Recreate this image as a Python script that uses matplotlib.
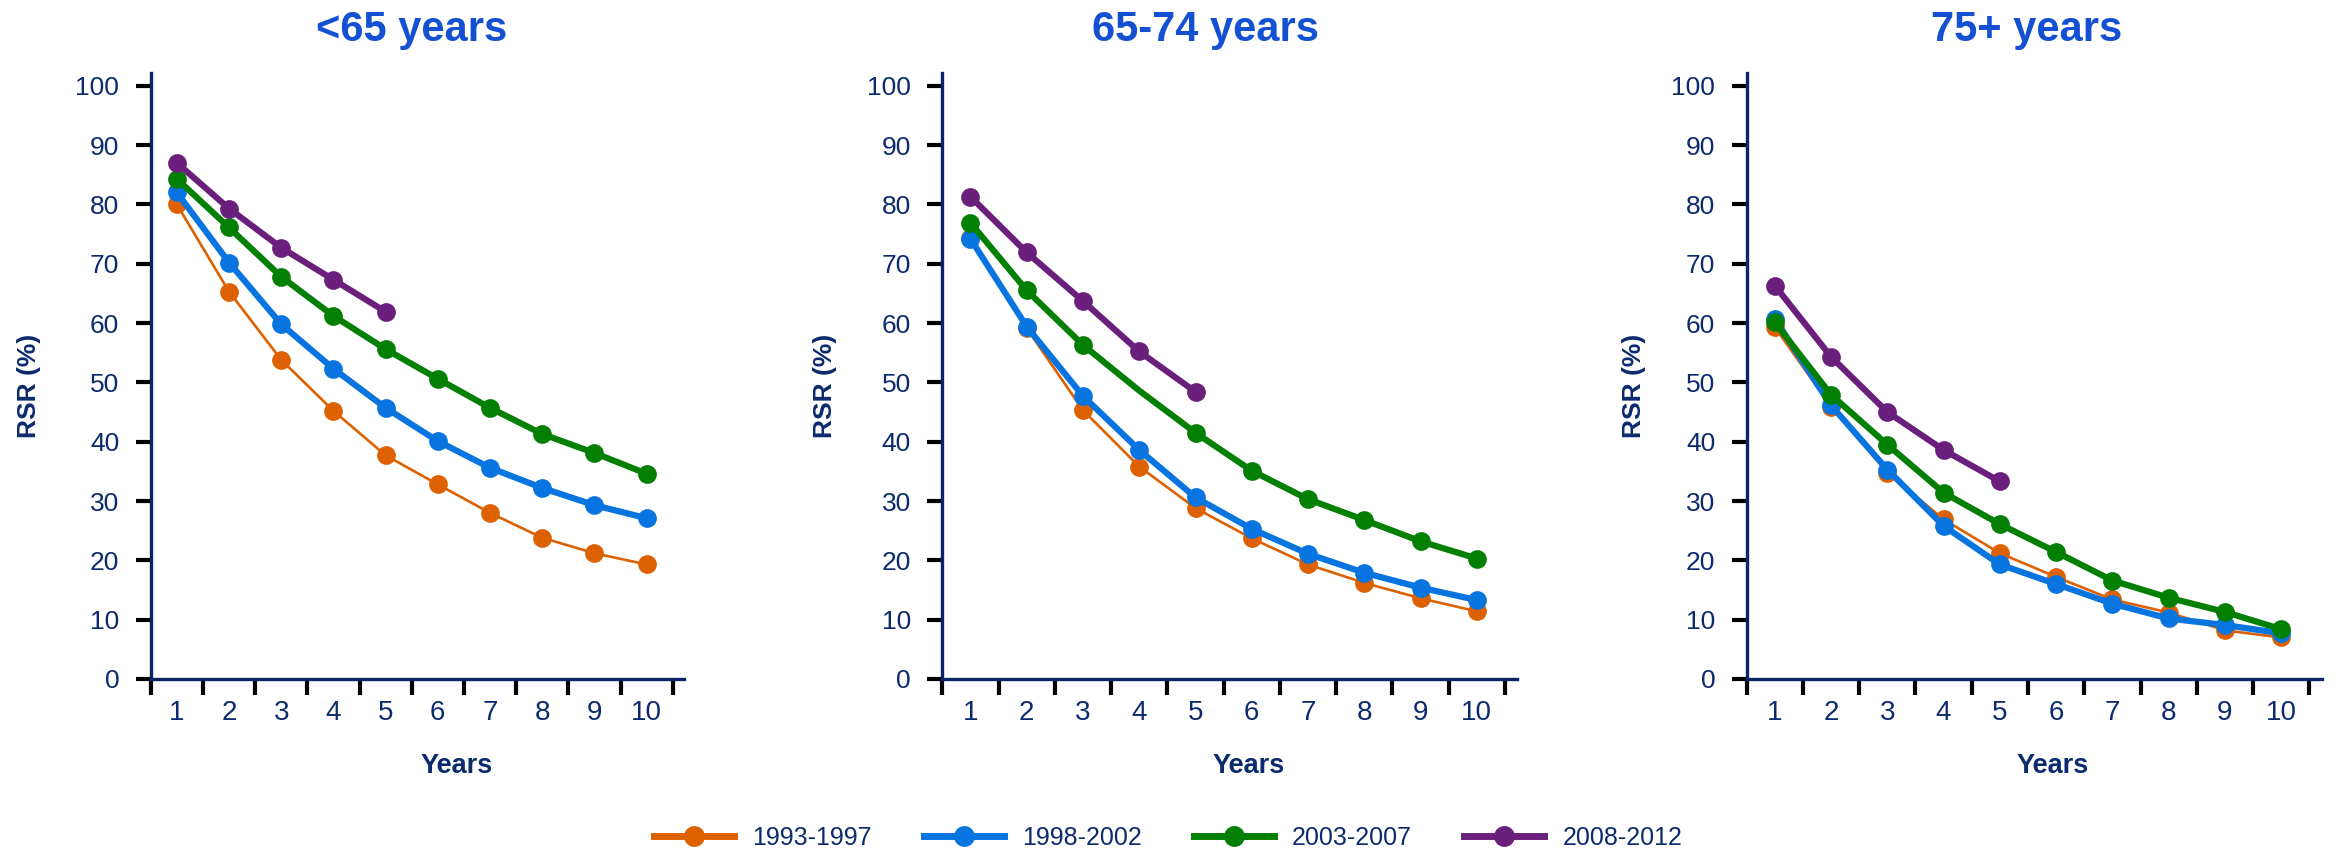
import numpy as np
import matplotlib
matplotlib.use("Agg")
import matplotlib.pyplot as plt
from matplotlib.lines import Line2D

plt.rcParams['font.family'] = ['Liberation Sans', 'DejaVu Sans']

years = [1, 2, 3, 4, 5, 6, 7, 8, 9, 10]
periods = ["1993-1997", "1998-2002", "2003-2007", "2008-2012"]
panel_titles = ["<65 years", "65-74 years", "75+ years"]

# <65 years
u65_1993 = [80.0, 65.3, 53.8, 45.2, 37.7, 32.8, 28.0, 23.8, 21.2, 19.3]
u65_1998 = [82.0, 70.2, 59.8, 52.3, 45.7, 40.1, 35.6, 32.2, 29.3, 27.1]
u65_2003 = [84.3, 76.1, 67.8, 61.2, 55.6, 50.6, 45.7, 41.3, 38.1, 34.6]
u65_2008 = [87.0, 79.3, 72.7, 67.3, 61.9]

# 65-74 years
a6574_1993 = [74.3, 59.1, 45.3, 35.8, 28.8, 23.7, 19.3, 16.2, 13.6, 11.4]
a6574_1998 = [74.2, 59.4, 47.7, 38.6, 30.6, 25.3, 21.1, 17.9, 15.4, 13.3]
a6574_2003 = [76.9, 65.5, 56.3, 48.6, 41.5, 35.1, 30.3, 26.8, 23.2, 20.3]
a6574_2008 = [81.3, 71.9, 63.7, 55.2, 48.4]

# 75+ years
o75_1993 = [59.3, 45.9, 34.8, 26.9, 21.2, 17.2, 13.4, 11.2, 8.2, 7.0]
o75_1998 = [60.7, 46.1, 35.3, 25.8, 19.3, 16.0, 12.7, 10.2, 9.1, 7.7]
o75_2003 = [60.1, 47.9, 39.5, 31.4, 26.1, 21.4, 16.6, 13.7, 11.3, 8.4]
o75_2008 = [66.3, 54.3, 45.0, 38.6, 33.3]

panels = [
    [u65_1993, u65_1998, u65_2003, u65_2008],
    [a6574_1993, a6574_1998, a6574_2003, a6574_2008],
    [o75_1993, o75_1998, o75_2003, o75_2008],
]

colors = ["#DD6100", "#0874E0", "#038003", "#6A1F7C"]
widths = [1.9, 4.5, 4.5, 4.5]
navy = "#0C2A6E"
axis_navy = "#0A2466"
title_blue = "#1450D2"

W, H = 2336, 849
fig = plt.figure(figsize=(W / 100, H / 100), dpi=100)

# axes geometry in pixels: (left, right end of line, category width)
geo = [(150.7, 684.0, 52.2), (942.3, 1517.0, 56.27), (1746.7, 2321.7, 56.26)]
y0_px, ytop_px = 679.0, 73.0
title_x = [412, 1205, 2027]
xlabel_x = [457, 1249, 2053]
ylabel_x = [29, 825, 1634]

axes = []
for i, (l, r, cw) in enumerate(geo):
    ax = fig.add_axes([l / W, (H - y0_px) / H, (r - l) / W, (y0_px - ytop_px) / H])
    axes.append(ax)
    for j, vals in enumerate(panels[i]):
        xs = years[:len(vals)]
        mev = None
        if i == 1 and j == 2:
            mev = [k for k in range(len(vals)) if k != 3]
        ax.plot(xs, vals, color=colors[j], lw=widths[j], marker='o', ms=13.5,
                markeredgewidth=0, markevery=mev, solid_capstyle='round',
                zorder=3 + j, clip_on=False)
    ext = (r - l - 10 * cw) / cw
    ax.set_xlim(0.5, 10.5 + ext)
    ax.set_ylim(0, (y0_px - ytop_px) / 5.933)
    for s in ['top', 'right']:
        ax.spines[s].set_visible(False)
    for s in ['left', 'bottom']:
        ax.spines[s].set_color(axis_navy)
        ax.spines[s].set_linewidth(2.4)
    ax.set_yticks(np.arange(0, 101, 10))
    ax.set_xticks(np.arange(0.5, 11, 1.0))
    ax.set_xticklabels([])
    ax.set_xticks(years, minor=True)
    ax.set_xticklabels([str(y) for y in years], minor=True)
    ax.tick_params(axis='y', which='major', direction='out', length=10.6, width=3,
                   color='black', labelsize=19, labelcolor=navy, pad=12)
    ax.tick_params(axis='x', which='major', direction='out', length=11.5, width=3,
                   color='black')
    ax.tick_params(axis='x', which='minor', length=0, labelsize=20,
                   labelcolor=navy, pad=15)
    ax.patch.set_alpha(0)

    fig.text(title_x[i] / W, (H - 40.6) / H, panel_titles[i], ha='center',
             va='baseline', fontsize=30, fontweight='bold', color=title_blue)
    fig.text(xlabel_x[i] / W, (H - 766) / H, "Years", ha='center', va='center',
             fontsize=19.5, fontweight='bold', color=navy)
    fig.text(ylabel_x[i] / W, (H - 386) / H, "RSR (%)", ha='center', va='center',
             rotation=90, fontsize=19, fontweight='bold', color=navy)

handles = [Line2D([0], [0], color=c, lw=5, marker='o', ms=15, markeredgewidth=0)
           for c in colors]
fig.legend(handles, periods, loc='center', bbox_to_anchor=(0.5, 11 / H), ncol=4,
           frameon=False, handlelength=3.2, handletextpad=0.72, columnspacing=2.1,
           fontsize=18, labelcolor=navy, borderpad=0)

fig.savefig("out.png", dpi=100)
